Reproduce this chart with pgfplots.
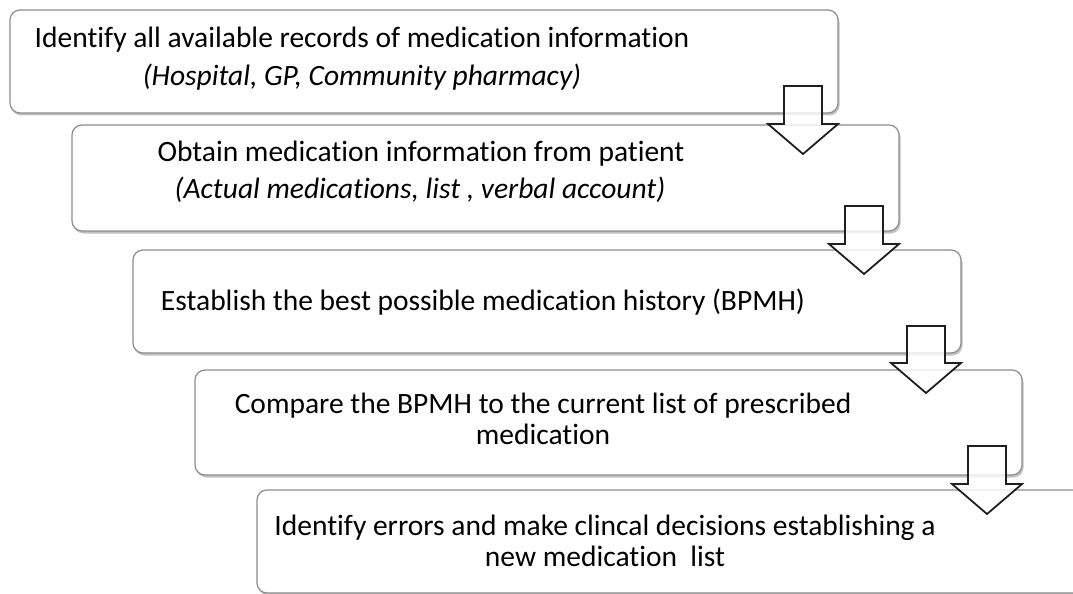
\documentclass[border=0pt]{standalone}
\usepackage{fontspec}
\setmainfont{Carlito}[Ligatures={NoCommon}]
\usepackage{pgfplots}
\pgfplotsset{compat=1.18}
\usetikzlibrary{shadows}
\tikzset{
  box/.style={draw=black!45, line width=1.2bp, rounded corners=10bp, fill=white,
    drop shadow={shadow xshift=1.5bp, shadow yshift=-2.5bp, opacity=0.35, fill=black!70}},
  txt/.style={anchor=base, inner sep=0pt, font=\fontsize{29.5bp}{35bp}\selectfont},
  itx/.style={txt, font=\fontsize{29.5bp}{35bp}\selectfont\itshape},
  arr/.style={draw=black!88, line width=1.8bp, fill=white, fill opacity=0.8, line join=miter}
}
\begin{document}
\begin{tikzpicture}
\begin{axis}[width=1073bp, height=594bp, scale only axis,
  xmin=0, xmax=1073, ymin=0, ymax=594, y dir=reverse,
  hide axis, clip mode=global]
% boxes
\draw[box] (axis cs:10,10) rectangle (axis cs:838,113);
\draw[box] (axis cs:72,125) rectangle (axis cs:899,231);
\draw[box] (axis cs:133,250) rectangle (axis cs:961,353);
\draw[box] (axis cs:195,370) rectangle (axis cs:1022,475);
\draw[box] (axis cs:257,490) rectangle (axis cs:1085,593);
% arrows
\addplot[arr] coordinates {(784,86) (822,86) (822,124) (838,124) (803,154) (768,124) (784,124)} --cycle;
\addplot[arr] coordinates {(845,206) (883,206) (883,244) (899,244) (864,274) (829,244) (845,244)} --cycle;
\addplot[arr] coordinates {(907,326) (945,326) (945,363) (961,363) (926,393) (891,363) (907,363)} --cycle;
\addplot[arr] coordinates {(968,446) (1006,446) (1006,484) (1022,484) (987,514) (952,484) (968,484)} --cycle;
% texts
\node[txt] at (axis cs:362,48) {Identify all available records of medication information};
\node[itx] at (axis cs:362,86) {(Hospital, GP, Community pharmacy)};
\node[txt] at (axis cs:421,161) {Obtain medication information from patient};
\node[itx] at (axis cs:420,198) {(Actual medications, list , verbal account)};
\node[txt] at (axis cs:483,310) {Establish the best possible medication history (BPMH)};
\node[txt] at (axis cs:543,413) {Compare the BPMH to the current list of prescribed};
\node[txt] at (axis cs:543,444) {medication};
\node[txt] at (axis cs:605,535) {Identify errors and make clincal decisions establishing a};
\node[txt] at (axis cs:605,566) {new medication\ \ list};
\end{axis}
\pgfresetboundingbox
\path (0,0) rectangle (1073bp,594bp);
\end{tikzpicture}
\end{document}
